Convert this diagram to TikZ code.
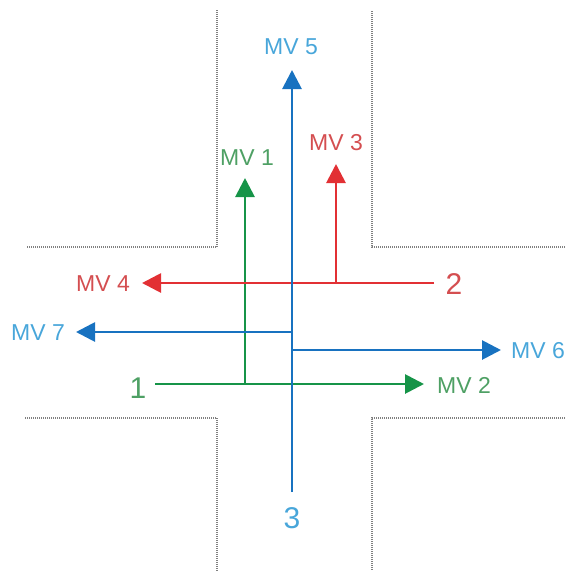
\documentclass[tikz,border=0pt]{standalone}
\usepackage{fontspec}
\setmainfont{Liberation Sans}
\usetikzlibrary{arrows.meta}
\definecolor{greenline}{RGB}{22,148,72}
\definecolor{greentext}{RGB}{78,160,100}
\definecolor{redline}{RGB}{226,48,52}
\definecolor{redtext}{RGB}{212,78,80}
\definecolor{blueline}{RGB}{24,114,192}
\definecolor{bluetext}{RGB}{72,166,218}

\begin{document}
\begin{tikzpicture}[x=1pt,y=-1pt]
        \tikzset{road/.style = {gray, dash pattern=on 1pt off 1pt, line width=1.6pt},
        move/.style = {line width=2.8pt, -{Triangle[length=19pt,width=19pt]}},
        mvlabel/.style = {font=\fontsize{23}{23}\selectfont, inner sep=0pt},
        origin/.style = {font=\fontsize{30}{30}\selectfont, inner sep=0pt}}
        \useasboundingbox (0,0) rectangle (565,571);
        % road edges
        \draw[road] (27,247) -- (217,247) -- (217,10);
        \draw[road] (565,247) -- (372,247) -- (372,10);
        \draw[road] (25,418) -- (217,418) -- (217,571);
        \draw[road] (565,418) -- (372,418) -- (372,571);
        % origins and labels
        \node[origin, text=greentext] (O1) at (138,388) {1};
        \node[origin, text=redtext] (O2) at (454,284) {2};
        \node[origin, text=bluetext] (O3) at (292,518) {3};
        \node[mvlabel, text=greentext] (MV1) at (247,158) {MV 1};
        \node[mvlabel, text=greentext] (MV2) at (464,385) {MV 2};
        \node[mvlabel, text=redtext] (MV3) at (336,143) {MV 3};
        \node[mvlabel, text=redtext] (MV4) at (103,284) {MV 4};
        \node[mvlabel, text=bluetext] (MV5) at (291,47) {MV 5};
        \node[mvlabel, text=bluetext, anchor=west] (MV6) at (511,351) {MV 6};
        \node[mvlabel, text=bluetext] (MV7) at (38,333) {MV 7};
        % start, branch and tip points
        \coordinate (s1) at (155,384);
        \coordinate (s2) at (434,283);
        \coordinate (s3) at (292,492);
        \coordinate (b1) at (245,384);
        \coordinate (b3) at (336,283);
        \coordinate (b7) at (292,332);
        \coordinate (b6) at (292,350);
        \coordinate (t1) at (245,178);
        \coordinate (t2) at (424,384);
        \coordinate (t3) at (336,164);
        \coordinate (t4) at (142,283);
        \coordinate (t5) at (292,70);
        \coordinate (t6) at (501,350);
        \coordinate (t7) at (76,332);
        % movements
        \draw[move, greenline] (s1) -- (t2);
        \draw[move, greenline] (b1) -- (t1);
        \draw[move, redline] (s2) -- (t4);
        \draw[move, redline] (b3) -- (t3);
        \draw[move, blueline] (b7) -- (t7);
        \draw[move, blueline] (b6) -- (t6);
        \draw[move, blueline] (s3) -- (t5);
\end{tikzpicture}
\end{document}
